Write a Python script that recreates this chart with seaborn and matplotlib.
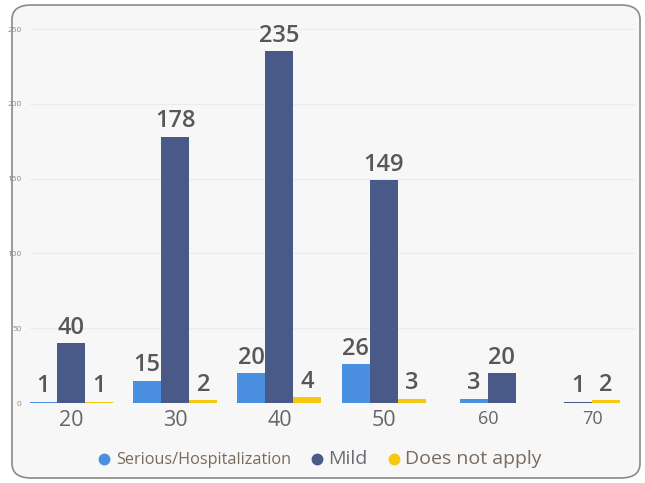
import numpy as np
import pandas as pd
import matplotlib
matplotlib.use("Agg")
import matplotlib.pyplot as plt
from matplotlib.patches import FancyBboxPatch
from matplotlib.lines import Line2D
import seaborn as sns

# ---- data ----
categories = ["20", "30", "40", "50", "60", "70"]
series_names = ["Serious/Hospitalization", "Mild", "Does not apply"]
serious = [1, 15, 20, 26, 3, None]
mild = [40, 178, 235, 149, 20, 1]
not_apply = [1, 2, 4, 3, None, 2]
y_ticks = [0, 50, 100, 150, 200, 250]

colors = ["#4a8fe0", "#4a5a88", "#f5c80f"]

sns.set_theme(style="white")
plt.rcParams['font.family'] = ['Open Sans', 'DejaVu Sans']

# build table with centred bar slots per group (missing bars omitted)
bar_w = 0.269
rows = []
for gi, cat in enumerate(categories):
    vals = [serious[gi], mild[gi], not_apply[gi]]
    present = [(s, v) for s, v in zip(series_names, vals) if v is not None]
    n = len(present)
    for k, (s, v) in enumerate(present):
        pos = gi + (k - (n - 1) / 2) * bar_w
        rows.append({"pos": pos, "value": v, "series": s})
df = pd.DataFrame(rows)
uniq = np.unique(df["pos"].round(6))
min_step = np.min(np.diff(uniq))

fig = plt.figure(figsize=(6.45, 4.83), dpi=100)
fig.patch.set_facecolor("white")
bg = FancyBboxPatch((12 / 645, 5 / 483), (640 - 12) / 645, (478 - 5) / 483,
                    boxstyle="round,pad=0,rounding_size=0.03",
                    transform=fig.transFigure, facecolor="#f7f7f7",
                    edgecolor="#8a8a8a", linewidth=1.2, zorder=-10)
fig.patches.append(bg)

ax = fig.add_axes([30 / 645, (483 - 403) / 483, (635 - 30) / 645, (403 - 29) / 483])
ax.set_facecolor("none")
ax.set_zorder(5)

sns.barplot(data=df, x="pos", y="value", hue="series", hue_order=series_names,
            palette=colors, saturation=1, native_scale=True, dodge=False,
            width=bar_w / min_step, linewidth=0, ax=ax, legend=False, zorder=3)

for cont in ax.containers:
    for rect in cont:
        h = rect.get_height()
        if np.isnan(h):
            continue
        ax.annotate(f"{int(round(h))}",
                    (rect.get_x() + rect.get_width() / 2, h),
                    xytext=(0, 2.5), textcoords="offset points",
                    ha="center", va="bottom", fontsize=17,
                    fontweight="semibold", color="#575757")

ax.set_xlim((30 - 71) / 104.2, (635 - 71) / 104.2)
ax.set_ylim(0, 250)
ax.set_yticks(y_ticks)
ax.set_yticklabels([str(t) for t in y_ticks], fontsize=6, color="#8a8a8a")
ax.set_xticks(range(len(categories)))
ax.set_xticklabels(categories, color="#666666")
for i, lab in enumerate(ax.get_xticklabels()):
    lab.set_fontsize(15.5 if i < 4 else 13)
ax.tick_params(axis="x", length=0, pad=5)
ax.tick_params(axis="y", length=0, pad=6)
ax.grid(axis="y", color="#ebebeb", linewidth=0.8, zorder=0)
ax.set_axisbelow(True)
for sp in ax.spines.values():
    sp.set_visible(False)
ax.set_xlabel("")
ax.set_ylabel("")

# legend
handles = [Line2D([0], [0], marker="o", linestyle="none", markersize=7.5,
                  markerfacecolor=c, markeredgecolor=c) for c in colors]
leg = fig.legend(handles, series_names, loc="center", bbox_to_anchor=(0.495, (483 - 459) / 483),
                 ncol=3, frameon=False, handletextpad=0.25, columnspacing=1.2,
                 handlelength=1.0)
tcolors = ["#7a6a5c", "#6b6b72", "#7a6a5c"]
tsizes = [11.7, 14, 14]
for t, c, s in zip(leg.get_texts(), tcolors, tsizes):
    t.set_color(c)
    t.set_fontsize(s)

fig.savefig("out.png", dpi=100, facecolor=fig.get_facecolor())
